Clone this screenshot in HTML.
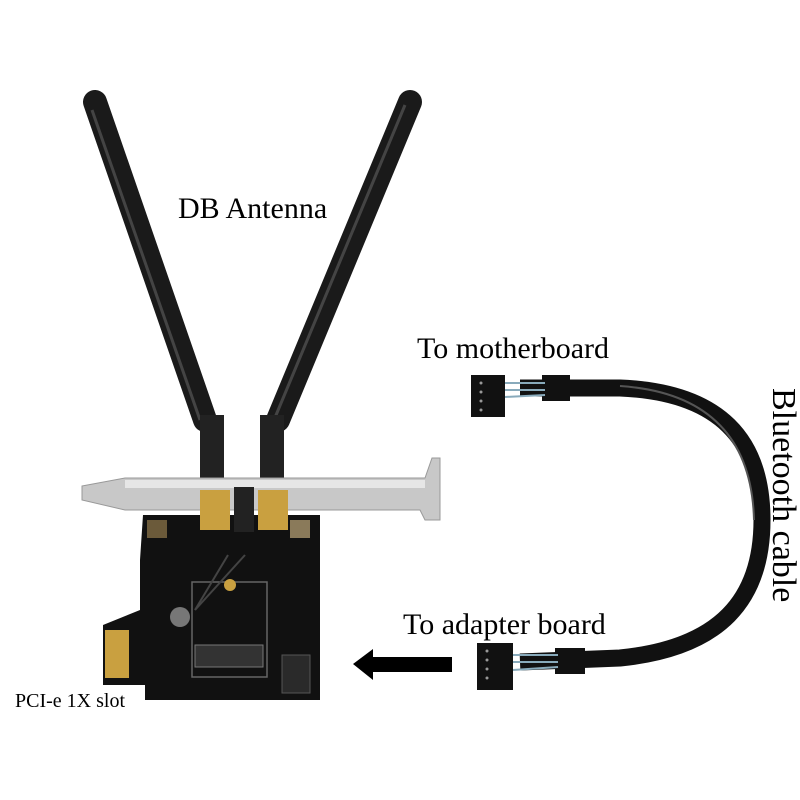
<!DOCTYPE html><html><head><style>body{margin:0;background:#fff}svg{display:block}</style></head><body>
<svg width="800" height="800" viewBox="0 0 800 800" xmlns="http://www.w3.org/2000/svg">
<rect width="800" height="800" fill="#fff"/>
<!-- antennas -->
<line x1="95" y1="102" x2="205" y2="420" stroke="#1a1a1a" stroke-width="24" stroke-linecap="round"/>
<line x1="410" y1="102" x2="278" y2="420" stroke="#1a1a1a" stroke-width="24" stroke-linecap="round"/>
<line x1="92" y1="110" x2="200" y2="420" stroke="#444" stroke-width="3"/>
<line x1="405" y1="105" x2="274" y2="420" stroke="#444" stroke-width="3"/>
<rect x="200" y="415" width="24" height="70" fill="#222"/>
<rect x="260" y="415" width="24" height="70" fill="#222"/>
<!-- bracket -->
<path d="M82 486 L125 478 L425 478 L432 458 L440 458 L440 520 L425 520 L420 510 L125 510 L82 500 Z" fill="#c8c8c8" stroke="#999"/>
<rect x="125" y="480" width="300" height="8" fill="#e6e6e6"/>
<!-- PCB -->
<path d="M143 515 L320 515 L320 700 L145 700 L145 685 L103 685 L103 625 L140 610 L140 560 L143 515 Z" fill="#111"/>
<rect x="200" y="490" width="30" height="40" fill="#c9a040"/>
<rect x="258" y="490" width="30" height="40" fill="#c9a040"/>
<rect x="234" y="487" width="20" height="45" fill="#222"/>
<rect x="147" y="520" width="20" height="18" fill="#6b5a3a"/>
<rect x="290" y="520" width="20" height="18" fill="#8a7a5a"/>
<rect x="192" y="582" width="75" height="95" fill="none" stroke="#666" stroke-width="1.5"/>
<rect x="195" y="645" width="68" height="22" fill="#333" stroke="#777"/>
<circle cx="230" cy="585" r="6" fill="#c9a040"/>
<line x1="228" y1="555" x2="195" y2="610" stroke="#444" stroke-width="2"/>
<line x1="245" y1="555" x2="195" y2="610" stroke="#444" stroke-width="2"/>
<circle cx="180" cy="617" r="10" fill="#777"/>
<rect x="282" y="655" width="28" height="38" fill="#2a2a2a" stroke="#555"/>
<rect x="105" y="630" width="24" height="48" fill="#c9a040"/>
<!-- arrow -->
<polygon points="353,664 373,649 373,657 452,657 452,672 373,672 373,680" fill="#000"/>
<!-- cable -->
<path d="M520 388 L620 388 C720 392 762 440 762 520 C762 600 720 648 620 658 L520 662" fill="none" stroke="#111" stroke-width="17"/>
<path d="M620 386 C710 392 752 440 754 520" fill="none" stroke="#555" stroke-width="2"/>
<rect x="542" y="375" width="28" height="26" fill="#111"/>
<rect x="555" y="648" width="30" height="26" fill="#111"/>
<path d="M505 383 L545 383 M505 390 L545 390 M505 397 L545 395" stroke="#8ab" stroke-width="2"/>
<path d="M513 655 L558 655 M513 662 L558 662 M513 670 L558 667" stroke="#8ab" stroke-width="2"/>
<rect x="471" y="375" width="34" height="42" fill="#111"/>
<rect x="477" y="643" width="36" height="47" fill="#111"/>
<g fill="#999"><circle cx="481" cy="383" r="1.5"/><circle cx="481" cy="392" r="1.5"/><circle cx="481" cy="401" r="1.5"/><circle cx="481" cy="410" r="1.5"/>
<circle cx="487" cy="651" r="1.5"/><circle cx="487" cy="660" r="1.5"/><circle cx="487" cy="669" r="1.5"/><circle cx="487" cy="678" r="1.5"/></g>
<!-- labels -->
<rect x="12" y="688" width="130" height="26" fill="#fff"/>
<g font-family="Liberation Serif,serif" fill="#000">
<text x="178" y="218" font-size="30">DB Antenna</text>
<text x="417" y="358" font-size="30">To motherboard</text>
<text x="403" y="634" font-size="30">To adapter board</text>
<text x="15" y="707" font-size="20">PCI-e 1X slot</text>
<text x="0" y="0" font-size="34" transform="translate(773 388) rotate(90)">Bluetooth cable</text>
</g>
</svg>
</body></html>
